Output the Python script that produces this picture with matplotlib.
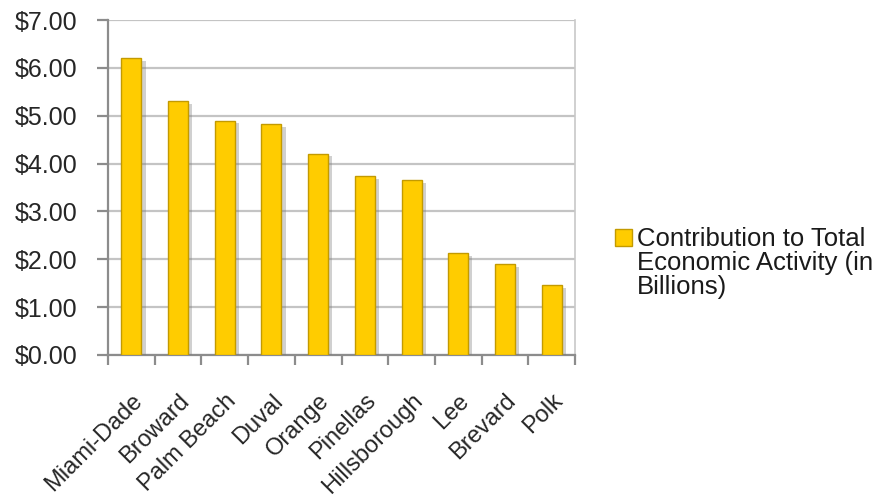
import matplotlib
matplotlib.use("Agg")
import matplotlib.pyplot as plt
import matplotlib.patheffects as pe
from matplotlib.patches import Rectangle
import numpy as np

counties = ["Miami-Dade", "Broward", "Palm Beach", "Duval", "Orange",
            "Pinellas", "Hillsborough", "Lee", "Brevard", "Polk"]
contribution = [6.21, 5.31, 4.90, 4.83, 4.21, 3.74, 3.66, 2.13, 1.90, 1.46]
y_ticks = [0, 1, 2, 3, 4, 5, 6, 7]
series_label = "Contribution to Total\nEconomic Activity (in\nBillions)"

plt.rcParams["font.family"] = ["Liberation Sans", "DejaVu Sans"]

W, H = 885, 500
fig = plt.figure(figsize=(W / 100, H / 100), dpi=100)
ax = fig.add_axes([108 / W, 1 - 355 / H, (575 - 108) / W, (355 - 20) / H])

x = np.arange(len(counties))
bar_face = "#FFCC00"
bar_edge = "#C39A00"
bars = ax.bar(x, contribution, width=0.43, color=bar_face, edgecolor=bar_edge,
              linewidth=1.0, zorder=3)
for b in bars:
    b.set_path_effects([pe.SimplePatchShadow(offset=(3, -2), shadow_rgbFace="#7a7a7a", alpha=0.35),
                        pe.Normal()])

ax.set_xlim(-0.5, len(counties) - 0.5)
ax.set_ylim(0, 7)
ax.set_yticks(y_ticks)
ax.set_yticklabels([f"${v:.2f}" for v in y_ticks], fontsize=18, color="#262626")
ax.yaxis.grid(True, color="#c4c4c4", linewidth=1.6, zorder=0)
ax.set_axisbelow(True)

ax.set_xticks(x)
ax.set_xticklabels(counties, rotation=45, ha="right", rotation_mode="anchor",
                   fontsize=17, color="#262626")
ax.tick_params(axis="x", which="major", length=0, pad=25)
ax.set_xticks(np.arange(-0.5, len(counties)), minor=True)
ax.tick_params(axis="x", which="minor", length=7, width=1.6, color="#8c8c8c", direction="out")
ax.tick_params(axis="y", length=8, width=1.6, color="#8c8c8c", pad=14)

for side in ("left", "bottom"):
    ax.spines[side].set_color("#8c8c8c")
    ax.spines[side].set_linewidth(1.6)
ax.spines["right"].set_color("#c8c8c8")
ax.spines["right"].set_linewidth(1.2)
ax.spines["top"].set_visible(False)

# legend: swatch beside the first line of the wrapped series name
fig.patches.append(Rectangle((615 / W, 1 - 246 / H), 17 / W, 17 / H,
                             transform=fig.transFigure, facecolor=bar_face,
                             edgecolor=bar_edge, linewidth=1.0))
fig.text(637 / W, 1 - 227 / H, series_label, ha="left", va="top",
         fontsize=18.5, color="#1a1a1a", linespacing=1.0)

fig.savefig("out.png", dpi=100)
